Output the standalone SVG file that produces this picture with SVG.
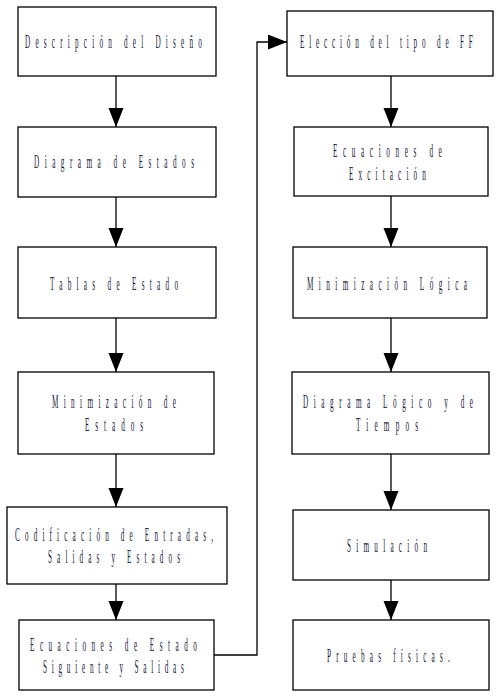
<svg xmlns="http://www.w3.org/2000/svg" width="500" height="697" viewBox="0 0 500 697">
<style>
.box{fill:#fff;stroke:#000;stroke-width:1.3}
.lbl{font-family:"Liberation Serif","Times New Roman",serif;font-size:18px;fill:#16163a}
.con{fill:none;stroke:#000;stroke-width:1.3}
</style>
<defs>
<marker id="ah" markerUnits="userSpaceOnUse" markerWidth="20" markerHeight="16" refX="19" refY="7.5" orient="auto">
<path d="M0,0 L19,7.5 L0,15 z" fill="#000"/>
</marker>
</defs>
<rect width="500" height="697" fill="#fff"/>
<g id="connectors">
<line class="con" x1="116" y1="76" x2="116" y2="127" marker-end="url(#ah)"/>
<line class="con" x1="116" y1="197" x2="116" y2="247" marker-end="url(#ah)"/>
<line class="con" x1="116" y1="318" x2="116" y2="372" marker-end="url(#ah)"/>
<line class="con" x1="116" y1="454" x2="116" y2="507" marker-end="url(#ah)"/>
<line class="con" x1="116" y1="584" x2="116" y2="620" marker-end="url(#ah)"/>
<polyline class="con" points="214,655 257,655 257,42 287,42" marker-end="url(#ah)"/>
<line class="con" x1="391" y1="76" x2="391" y2="127" marker-end="url(#ah)"/>
<line class="con" x1="391" y1="196" x2="391" y2="247" marker-end="url(#ah)"/>
<line class="con" x1="391" y1="318" x2="391" y2="372" marker-end="url(#ah)"/>
<line class="con" x1="391" y1="454" x2="391" y2="510" marker-end="url(#ah)"/>
<line class="con" x1="391" y1="580" x2="391" y2="620" marker-end="url(#ah)"/>
</g>
<g id="n1"><rect class="box" x="18" y="7" width="198" height="69"/>
<text class="lbl" transform="scale(0.4,1)" x="62.5" y="48" textLength="442" lengthAdjust="spacing">Descripción del Diseño</text></g>
<g id="n2"><rect class="box" x="18" y="127" width="198" height="70"/>
<text class="lbl" transform="scale(0.4,1)" x="85" y="168" textLength="400" lengthAdjust="spacing">Diagrama de Estados</text></g>
<g id="n3"><rect class="box" x="18" y="247" width="198" height="71"/>
<text class="lbl" transform="scale(0.4,1)" x="125" y="290" textLength="320" lengthAdjust="spacing">Tablas de Estado</text></g>
<g id="n4"><rect class="box" x="18" y="372" width="196" height="82"/>
<text class="lbl" transform="scale(0.4,1)" x="130" y="408" textLength="310" lengthAdjust="spacing">Minimización de</text>
<text class="lbl" transform="scale(0.4,1)" x="212.5" y="431" textLength="145" lengthAdjust="spacing">Estados</text></g>
<g id="n5"><rect class="box" x="7" y="507" width="220" height="77"/>
<text class="lbl" transform="scale(0.4,1)" x="37.5" y="541" textLength="495" lengthAdjust="spacing">Codificación de Entradas,</text>
<text class="lbl" transform="scale(0.4,1)" x="120" y="563" textLength="330" lengthAdjust="spacing">Salidas y Estados</text></g>
<g id="n6"><rect class="box" x="19" y="620" width="195" height="70"/>
<text class="lbl" transform="scale(0.4,1)" x="75" y="651" textLength="417" lengthAdjust="spacing">Ecuaciones de Estado</text>
<text class="lbl" transform="scale(0.4,1)" x="107.5" y="673" textLength="352" lengthAdjust="spacing">Siguiente y Salidas</text></g>
<g id="n7"><rect class="box" x="287" y="11" width="206" height="65"/>
<text class="lbl" transform="scale(0.4,1)" x="750" y="48" textLength="432" lengthAdjust="spacing">Elección del tipo de FF</text></g>
<g id="n8"><rect class="box" x="294" y="127" width="194" height="69"/>
<text class="lbl" transform="scale(0.4,1)" x="832.5" y="157" textLength="272" lengthAdjust="spacing">Ecuaciones de</text>
<text class="lbl" transform="scale(0.4,1)" x="872.5" y="180" textLength="192" lengthAdjust="spacing">Excitación</text></g>
<g id="n9"><rect class="box" x="293" y="247" width="194" height="71"/>
<text class="lbl" transform="scale(0.4,1)" x="767.5" y="290" textLength="400" lengthAdjust="spacing">Minimización Lógica</text></g>
<g id="n10"><rect class="box" x="292" y="372" width="197" height="82"/>
<text class="lbl" transform="scale(0.4,1)" x="757.5" y="408" textLength="425" lengthAdjust="spacing">Diagrama Lógico y de</text>
<text class="lbl" transform="scale(0.4,1)" x="890" y="431" textLength="155" lengthAdjust="spacing">Tiempos</text></g>
<g id="n11"><rect class="box" x="293" y="510" width="196" height="70"/>
<text class="lbl" transform="scale(0.4,1)" x="867.5" y="552" textLength="200" lengthAdjust="spacing">Simulación</text></g>
<g id="n12"><rect class="box" x="293" y="620" width="196" height="70"/>
<text class="lbl" transform="scale(0.4,1)" x="817.5" y="662" textLength="307" lengthAdjust="spacing">Pruebas físicas.</text></g>
</svg>
